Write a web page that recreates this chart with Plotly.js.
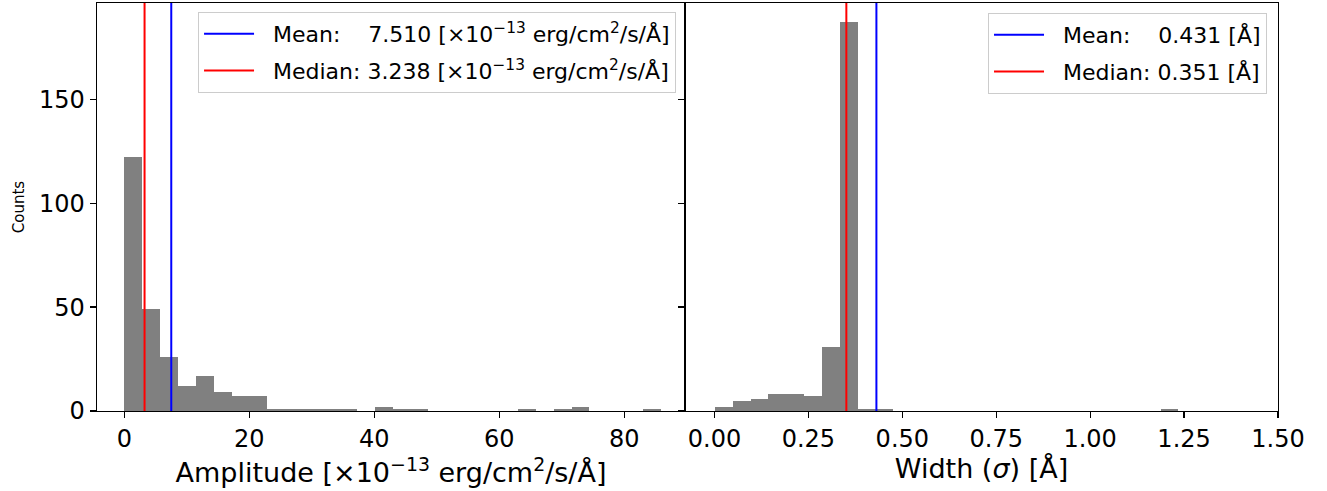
<!DOCTYPE html>
<html>
<head>
<meta charset="utf-8">
<script src="https://cdn.plot.ly/plotly-3.0.1.min.js"></script>
<style>html,body{margin:0;padding:0;background:#fff;}#chart{width:1327px;height:491px;}</style>
</head>
<body>
<div id="chart"></div>
<script>
// Amplitude histogram (units of 1e-13 erg/cm2/s/Å)
const ampBinStart = 0.0;
const ampBinWidth = 2.862;
const ampCounts = [122, 49, 26, 12, 17, 9, 7, 7, 1, 1, 1, 1, 1, 0, 2, 1, 1, 0, 0, 0, 0, 0, 1, 0, 1, 2, 0, 0, 0, 1];
const ampMean = 7.510;
const ampMedian = 3.238;

// Width (sigma) histogram (Å)
const widthBinStart = 0.0013;
const widthBinWidth = 0.04745;
const widthCounts = [2, 5, 6, 8, 8, 7, 31, 187, 1, 1, 0, 0, 0, 0, 0, 0, 0, 0, 0, 0, 0, 0, 0, 0, 0, 1];
const widthMean = 0.431;
const widthMedian = 0.351;

const ampTicks = [0, 20, 40, 60, 80];
const widthTicks = [0, 0.25, 0.5, 0.75, 1.0, 1.25, 1.5];
const countTicks = [0, 50, 100, 150];

const yTop = Math.max(...ampCounts, ...widthCounts) * 1.05;
const centers = (start, w, n) => Array.from({length: n}, (_, i) => start + (i + 0.5) * w);

const NB = '\u00A0';
const unit = '[×10<sup>−13</sup>' + NB + 'erg/cm<sup>2</sup>/s/Å]';
const pad = (s) => NB + NB + s;

const traces = [
  {type: 'bar', x: centers(ampBinStart, ampBinWidth, ampCounts.length), y: ampCounts,
   width: ampBinWidth, marker: {color: '#808080', line: {width: 0}}, xaxis: 'x', yaxis: 'y', showlegend: false, hoverinfo: 'skip'},
  {type: 'bar', x: centers(widthBinStart, widthBinWidth, widthCounts.length), y: widthCounts,
   width: widthBinWidth, marker: {color: '#808080', line: {width: 0}}, xaxis: 'x2', yaxis: 'y2', showlegend: false, hoverinfo: 'skip'},
  {type: 'scatter', mode: 'lines', x: [ampMean, ampMean], y: [0, yTop], line: {color: '#0000ff', width: 2},
   name: pad('Mean:' + NB.repeat(4) + ampMean.toFixed(3) + ' ' + unit), xaxis: 'x', yaxis: 'y', legend: 'legend', legendgroup: 'a1'},
  {type: 'scatter', mode: 'lines', x: [ampMedian, ampMedian], y: [0, yTop], line: {color: '#ff0000', width: 2},
   name: pad('Median: ' + ampMedian.toFixed(3) + ' ' + unit), xaxis: 'x', yaxis: 'y', legend: 'legend', legendgroup: 'a2'},
  {type: 'scatter', mode: 'lines', x: [widthMean, widthMean], y: [0, yTop], line: {color: '#0000ff', width: 2},
   name: pad('Mean:' + NB.repeat(4) + widthMean.toFixed(3) + ' [Å]'), xaxis: 'x2', yaxis: 'y2', legend: 'legend2', legendgroup: 'b1'},
  {type: 'scatter', mode: 'lines', x: [widthMedian, widthMedian], y: [0, yTop], line: {color: '#ff0000', width: 2},
   name: pad('Median: ' + widthMedian.toFixed(3) + ' [Å]'), xaxis: 'x2', yaxis: 'y2', legend: 'legend2', legendgroup: 'b2'}
];

const axBase = {
  showline: true, linecolor: '#000', linewidth: 1.3, mirror: true,
  ticks: 'outside', ticklen: 6, tickwidth: 1.3, tickcolor: '#000',
  showgrid: false, zeroline: false, tickfont: {size: 24, color: '#000'}
};
const split = 588 / 1181;
const legBase = {bgcolor: 'rgba(255,255,255,0.8)', bordercolor: '#cccccc', borderwidth: 1,
  font: {size: 22, color: '#000'}, xanchor: 'right', yanchor: 'top', tracegroupgap: 5, itemwidth: 50, traceorder: 'grouped'};

const layout = {
  width: 1327, height: 491,
  margin: {l: 97, r: 49, t: 3, b: 80, pad: 0},
  paper_bgcolor: '#fff', plot_bgcolor: '#fff',
  font: {family: 'DejaVu Sans, sans-serif', color: '#000'},
  bargap: 0,
  xaxis: Object.assign({}, axBase, {domain: [0, split], range: [-4.37, 89.7], tickvals: ampTicks,
    anchor: 'y', title: {text: 'Amplitude ' + unit, font: {size: 27}, standoff: 6}}),
  yaxis: Object.assign({}, axBase, {domain: [0, 1], range: [0, yTop], tickvals: countTicks, anchor: 'x',
    title: {text: 'Counts', font: {size: 15}, standoff: 10}}),
  xaxis2: Object.assign({}, axBase, {domain: [split, 1], range: [-0.0785, 1.5], tickvals: widthTicks, tickformat: '.2f',
    anchor: 'y2', title: {text: 'Width (<i>σ</i>) [Å]', font: {size: 27}, standoff: 6}}),
  yaxis2: Object.assign({}, axBase, {domain: [0, 1], range: [0, yTop], tickvals: countTicks, anchor: 'x2', showticklabels: false}),
  legend: Object.assign({}, legBase, {x: 0.4903, y: 0.978}),
  legend2: Object.assign({}, legBase, {x: 0.9907, y: 0.9755})
};

Plotly.newPlot('chart', traces, layout, {displayModeBar: false, staticPlot: true});
</script>
</body>
</html>
